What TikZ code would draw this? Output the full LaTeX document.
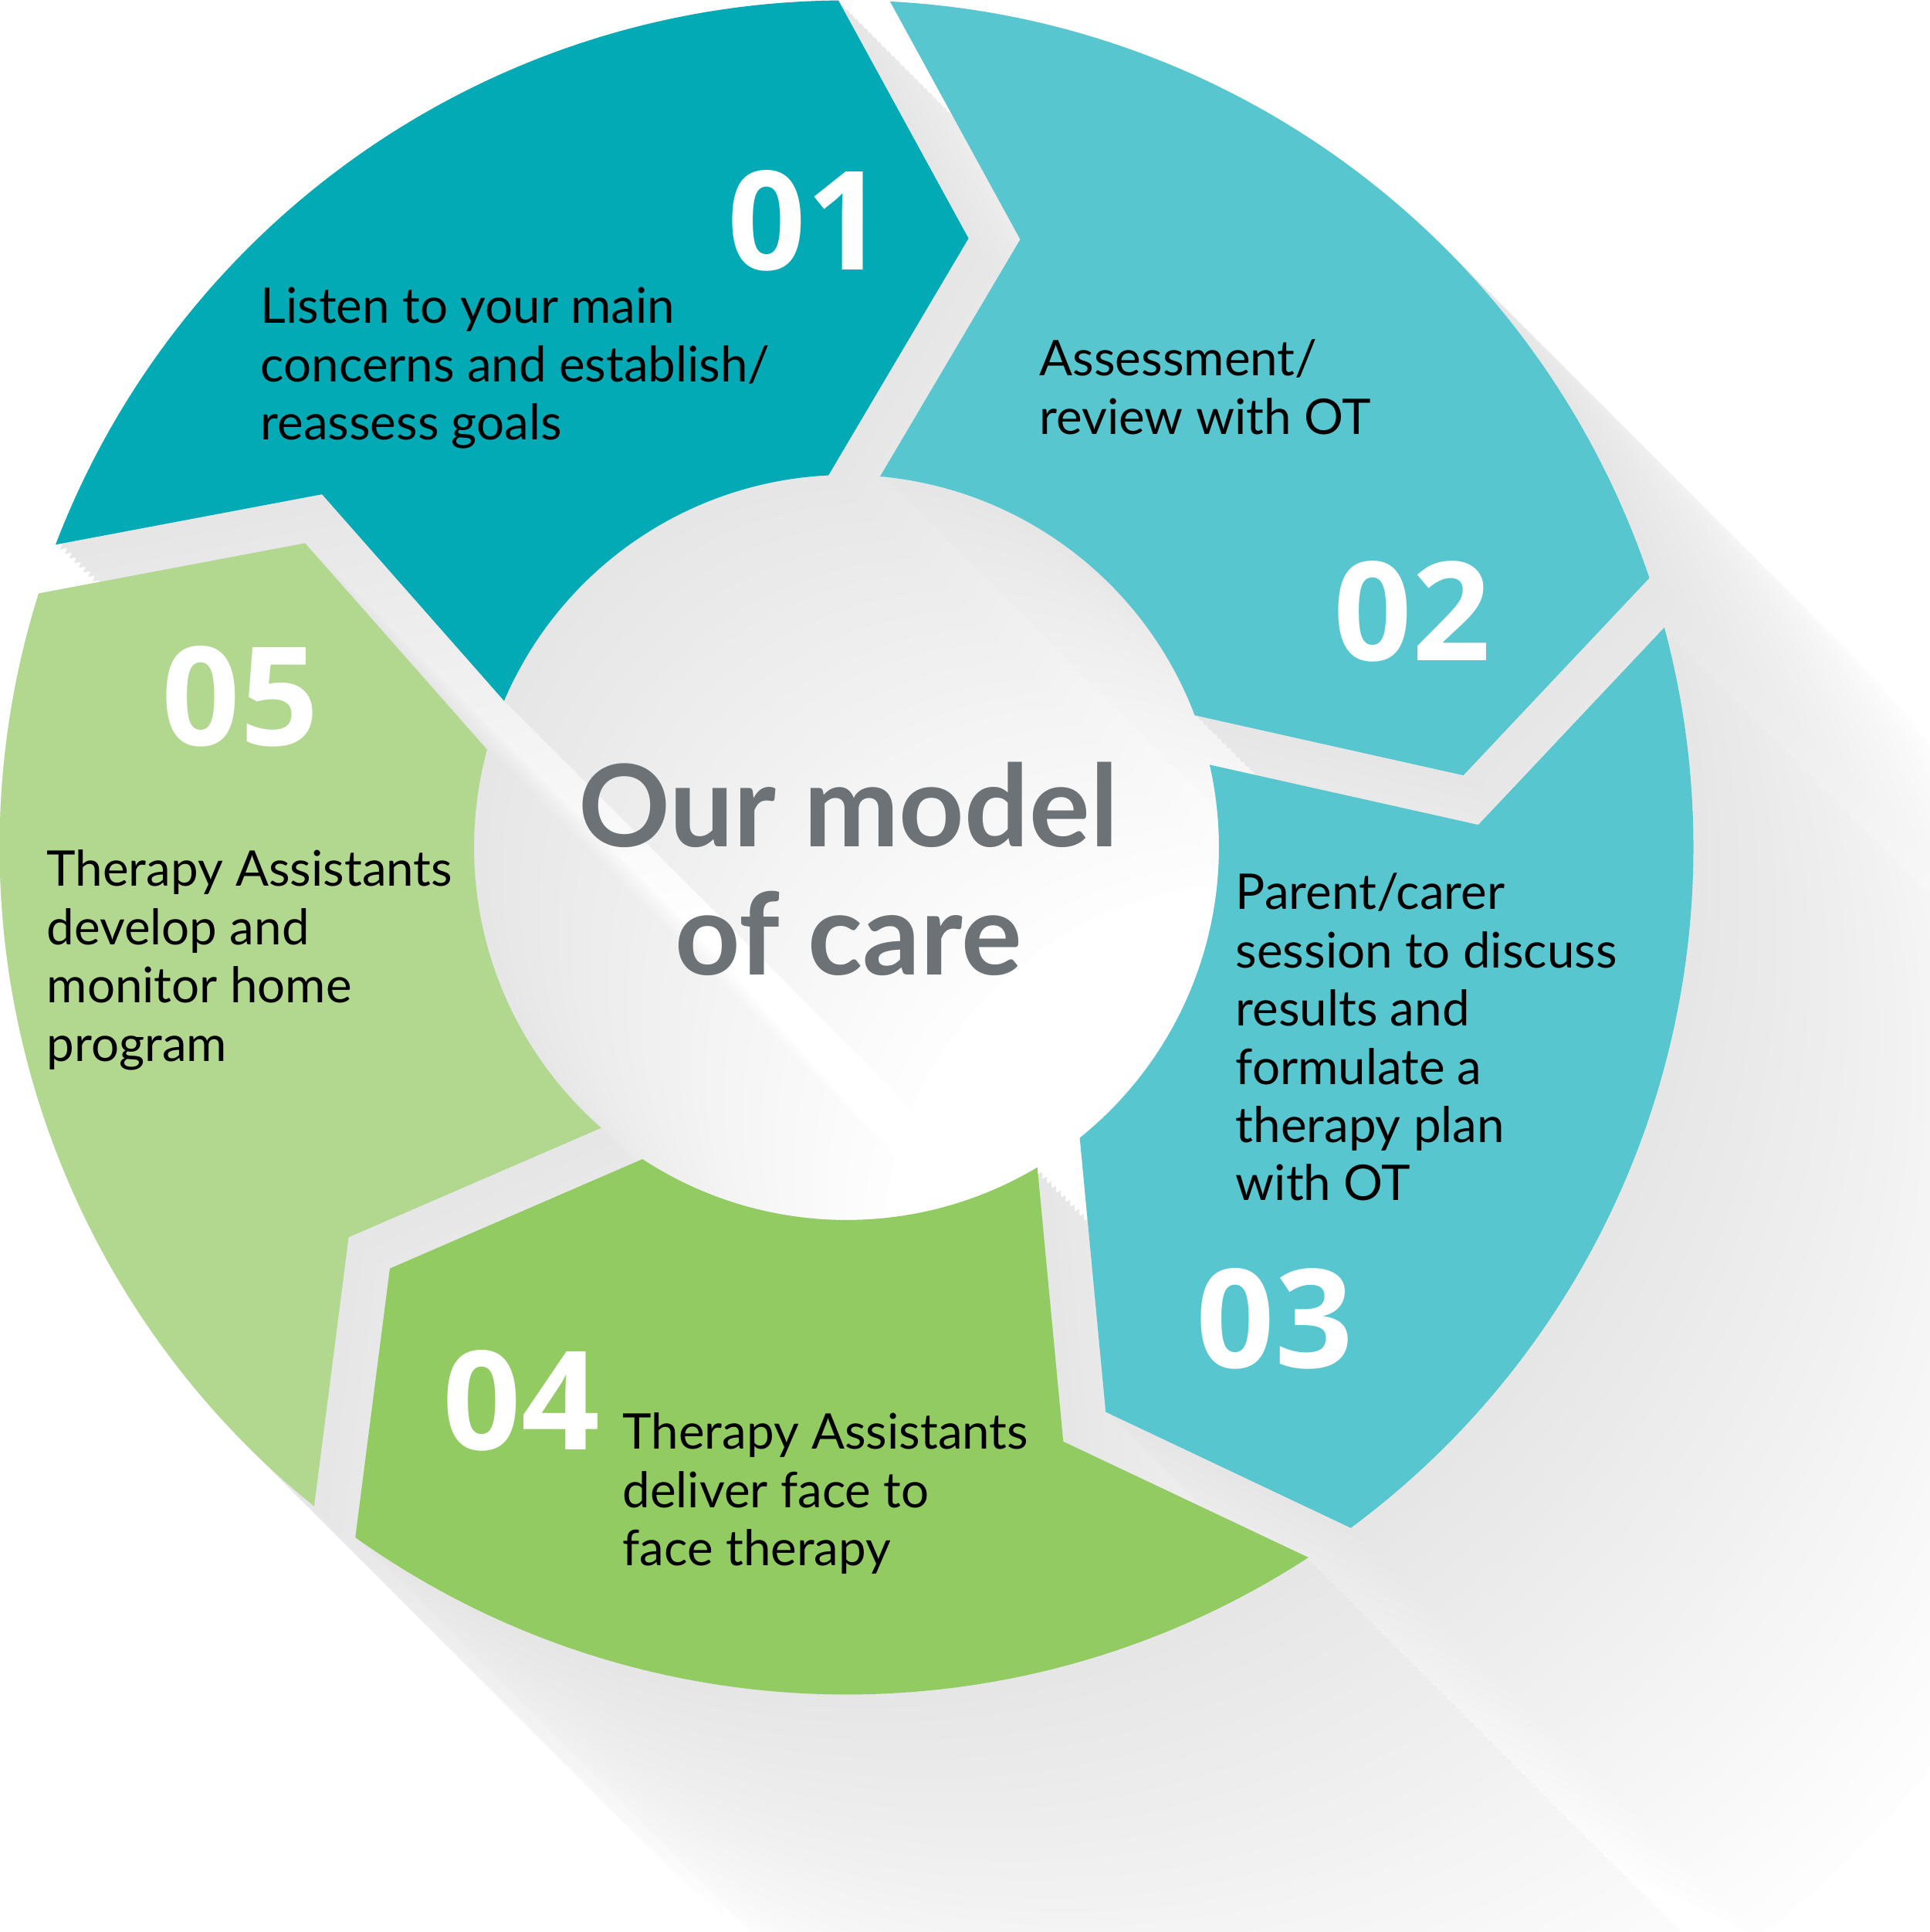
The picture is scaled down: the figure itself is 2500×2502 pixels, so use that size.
\documentclass[tikz,border=0pt]{standalone}
\usepackage{fontspec}
\setmainfont{Lato}
\newfontfamily\numfont{Open Sans}
\definecolor{segA}{HTML}{02AAB6}
\definecolor{segB}{HTML}{58C6CF}
\definecolor{segD}{HTML}{92CB61}
\definecolor{segE}{HTML}{B2D88F}
\definecolor{titlegrey}{HTML}{6D7277}
% one chevron segment, #1 = angle of its leading (clockwise) boundary
\newcommand{\segp}[1]{({#1+70.25}:1097) arc[start angle={#1+70.25}, end angle={#1+1.75}, radius=1097] -- ({#1-10.13}:804.5) -- ({#1+3.98}:482.5) arc[start angle={#1+3.98}, end angle={#1+68.02}, radius=482.5] -- ({#1+57.25}:819) -- cycle}
\newcommand{\ringp}{\segp{88.8} \segp{16.8} \segp{-55.2} \segp{-127.2} \segp{-199.2}}
\tikzset{
  bodytext/.style={anchor=base west, inner sep=0pt, text=black, font=\fontsize{18.1pt}{21.43pt}\selectfont},
  numtext/.style={anchor=base, inner sep=0pt, text=white, font=\numfont\bfseries\fontsize{50.6pt}{50pt}\selectfont},
  titletext/.style={anchor=base, inner sep=0pt, text=titlegrey, font=\bfseries\fontsize{41.9pt}{47.2pt}\selectfont}
}
\begin{document}
\begin{tikzpicture}[x=0.01cm,y=0.01cm]
\useasboundingbox (0,0) rectangle (2500,2502);
\clip (0,0) rectangle (2500,2502);
\fill[white] (0,0) rectangle (2500,2502);
\begin{scope}[shift={(1096.5,1404.5)}]
  % long shadow
  \foreach \shft in {528,522,...,0} {
    \pgfmathsetmacro\shd{10*(1-\shft/560)}
    \fill[black!\shd, shift={(\shft,-\shft)}] \ringp;
  }
  % segments
  \fill[segA] \segp{88.8};
  \fill[segB] \segp{16.8};
  \fill[segB] \segp{-55.2};
  \fill[segD] \segp{-127.2};
  \fill[segE] \segp{-199.2};
\end{scope}
% numbers
\node[numtext] (n1) at (1044,2152) {01};
\node[numtext] (n2) at (1829,1646) {02};
\node[numtext] (n3) at (1651,730) {03};
\node[numtext] (n4) at (675,624) {04};
\node[numtext] (n5) at (311.5,1536) {05};
% texts
\node[bodytext] (t1) at (337,2083) {\parbox[t]{9cm}{\raggedright Listen to your main\\concerns and establish/\\reassess goals}};
\node[bodytext] (t2) at (1346,2015) {\parbox[t]{9cm}{\raggedright Assessment/\\review with OT}};
\node[bodytext] (t3) at (1600,1324) {\parbox[t]{9cm}{\raggedright Parent/carer\\session to discuss\\results and\\formulate a\\therapy plan\\with OT}};
\node[bodytext] (t4) at (806,625) {\parbox[t]{9cm}{\raggedright Therapy Assistants\\deliver face to\\face therapy}};
\node[bodytext] (t5) at (60,1354) {\parbox[t]{9cm}{\raggedright Therapy Assistants\\develop and\\monitor home\\program}};
% title
\node[titletext] (title) at (1099,1405) {\parbox[t]{10cm}{\centering Our model\\of care}};
\end{tikzpicture}
\end{document}
